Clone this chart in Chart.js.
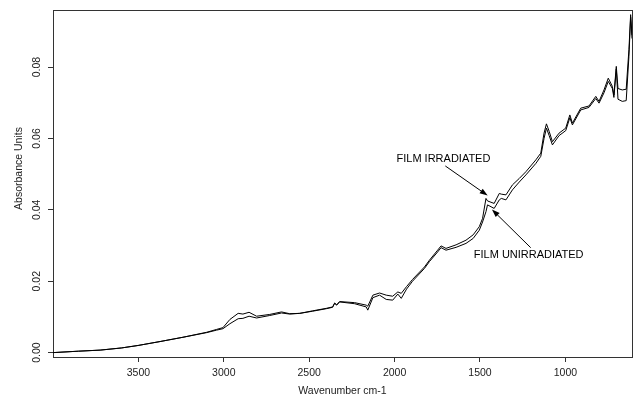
<!DOCTYPE html>
<html>
<head>
<meta charset="utf-8">
<script src="https://cdn.jsdelivr.net/npm/chart.js@4/dist/chart.umd.min.js"></script>
<style>
  body { margin: 0; background: #fff; }
  #wrap { width: 637px; height: 399px; }
</style>
</head>
<body>
<div id="wrap"><canvas id="spec" width="637" height="399"></canvas></div>
<script>
// -----------------------------
// Data
// -----------------------------
const wavenumbers = [
  4000, 3850, 3724, 3600, 3502, 3373, 3239, 3100, 3042, 3005,
  2964, 2916, 2888, 2852, 2808, 2731, 2662, 2614, 2555, 2480,
  2400, 2363, 2351, 2339, 2322, 2234, 2166, 2157, 2127, 2088,
  2049, 2011, 1981, 1961, 1930, 1895, 1825, 1796, 1748, 1728,
  1699, 1640, 1582, 1540, 1504, 1485, 1465, 1456, 1417, 1387,
  1375, 1348, 1310, 1270, 1231, 1173, 1144, 1125, 1111, 1095,
  1076, 1037, 998, 974, 959, 910, 862, 822, 803, 774,
  749, 725, 716, 702, 692, 667, 644, 628, 618, 610
];
const irradiated = [
  0.0000, 0.0004, 0.0007, 0.0013, 0.0020, 0.0031, 0.0043, 0.0057, 0.0065, 0.0070,
  0.0093, 0.0110, 0.0108, 0.0113, 0.0102, 0.0107, 0.0114, 0.0109, 0.0110, 0.0117,
  0.0124, 0.0128, 0.0139, 0.0134, 0.0143, 0.0140, 0.0133, 0.0130, 0.0161, 0.0167,
  0.0161, 0.0158, 0.0170, 0.0166, 0.0185, 0.0205, 0.0240, 0.0259, 0.0287, 0.0299,
  0.0292, 0.0302, 0.0315, 0.0330, 0.0353, 0.0376, 0.0432, 0.0425, 0.0418, 0.0446,
  0.0444, 0.0442, 0.0470, 0.0488, 0.0507, 0.0540, 0.0559, 0.0615, 0.0641, 0.0620,
  0.0591, 0.0615, 0.0629, 0.0666, 0.0643, 0.0685, 0.0691, 0.0718, 0.0704, 0.0736,
  0.0769, 0.0746, 0.0722, 0.0802, 0.0740, 0.0736, 0.0738, 0.0849, 0.0947, 0.0890
];
const unirradiated = [
  0.0000, 0.0004, 0.0007, 0.0013, 0.0020, 0.0031, 0.0043, 0.0056, 0.0063, 0.0067,
  0.0081, 0.0095, 0.0096, 0.0102, 0.0097, 0.0104, 0.0111, 0.0108, 0.0110, 0.0116,
  0.0123, 0.0127, 0.0138, 0.0133, 0.0142, 0.0137, 0.0128, 0.0119, 0.0154, 0.0161,
  0.0149, 0.0147, 0.0164, 0.0152, 0.0178, 0.0200, 0.0236, 0.0255, 0.0282, 0.0294,
  0.0287, 0.0295, 0.0306, 0.0320, 0.0343, 0.0366, 0.0395, 0.0414, 0.0404, 0.0428,
  0.0432, 0.0428, 0.0456, 0.0478, 0.0498, 0.0530, 0.0550, 0.0600, 0.0629, 0.0608,
  0.0582, 0.0608, 0.0622, 0.0658, 0.0638, 0.0680, 0.0687, 0.0712, 0.0699, 0.0728,
  0.0760, 0.0740, 0.0715, 0.0795, 0.0710, 0.0704, 0.0706, 0.0830, 0.0940, 0.0880
];
const xTicks = [3500, 3000, 2500, 2000, 1500, 1000];
const yTicks = [0.00, 0.02, 0.04, 0.06, 0.08];

// labels with arrows, in data units (text centre, arrow tail, arrow tip)
const notes = [
  { text: "FILM IRRADIATED",   at: [1714, 0.0543], from: [1703, 0.0523], to: [1455, 0.0440] },
  { text: "FILM UNIRRADIATED", at: [1215, 0.0273], from: [1203, 0.0294], to: [1430, 0.0401] }
];

// -----------------------------
// Styling helpers
// -----------------------------
const FONT = '"Liberation Sans", Arial, sans-serif';
const axisFont = { family: FONT, size: 10.5 };
const ink = '#222';
const frame = '#333';

const toPoints = vals => wavenumbers.map((w, i) => ({ x: w, y: vals[i] }));

// draws the arrow labels and the y title (placed a little above centre, as in the original)
const notesPlugin = {
  id: 'notes',
  afterDatasetsDraw(chart) {
    const { ctx, chartArea, scales: { x, y } } = chart;
    ctx.save();
    ctx.fillStyle = '#000';
    ctx.strokeStyle = '#000';
    ctx.lineWidth = 1;
    ctx.font = '11px ' + FONT;
    ctx.textAlign = 'center';
    ctx.textBaseline = 'middle';
    notes.forEach(n => {
      ctx.fillText(n.text, x.getPixelForValue(n.at[0]), y.getPixelForValue(n.at[1]));
      const x0 = x.getPixelForValue(n.from[0]), y0 = y.getPixelForValue(n.from[1]);
      const x1 = x.getPixelForValue(n.to[0]), y1 = y.getPixelForValue(n.to[1]);
      const a = Math.atan2(y1 - y0, x1 - x0);
      ctx.beginPath();
      ctx.moveTo(x0, y0);
      ctx.lineTo(x1 - 6 * Math.cos(a), y1 - 6 * Math.sin(a));
      ctx.stroke();
      ctx.beginPath();
      ctx.moveTo(x1, y1);
      ctx.lineTo(x1 - 8 * Math.cos(a) + 2.8 * Math.sin(a), y1 - 8 * Math.sin(a) - 2.8 * Math.cos(a));
      ctx.lineTo(x1 - 8 * Math.cos(a) - 2.8 * Math.sin(a), y1 - 8 * Math.sin(a) + 2.8 * Math.cos(a));
      ctx.closePath();
      ctx.fill();
    });
    // y axis title
    ctx.fillStyle = ink;
    ctx.font = '10.5px ' + FONT;
    ctx.translate(19, (chartArea.top + chartArea.bottom) / 2 - 15);
    ctx.rotate(-Math.PI / 2);
    ctx.fillText('Absorbance Units', 0, 0);
    ctx.restore();
  }
};

// -----------------------------
// Chart
// -----------------------------
new Chart(document.getElementById('spec'), {
  type: 'line',
  data: {
    datasets: [
      { label: 'Film irradiated', data: toPoints(irradiated), borderColor: '#000', borderWidth: 1, pointRadius: 0, tension: 0, fill: false },
      { label: 'Film unirradiated', data: toPoints(unirradiated), borderColor: '#000', borderWidth: 1, pointRadius: 0, tension: 0, fill: false }
    ]
  },
  options: {
    responsive: false,
    animation: false,
    devicePixelRatio: 1,
    layout: { padding: { left: 0, right: 5, top: 10, bottom: 0 } },
    plugins: { legend: { display: false }, tooltip: { enabled: false } },
    scales: {
      x: {
        type: 'linear', position: 'bottom', reverse: true, min: 610, max: 4000,
        afterBuildTicks: s => { s.ticks = xTicks.map(v => ({ value: v })); },
        afterFit: s => { s.height = 42; },
        grid: { display: true, drawOnChartArea: false, drawTicks: true, tickLength: 5, color: frame },
        border: { display: true, color: frame, width: 1 },
        ticks: { font: axisFont, color: ink, padding: 5, maxRotation: 0, callback: v => String(v) },
        title: { display: true, text: 'Wavenumber cm-1', font: axisFont, color: ink, padding: { top: 0, bottom: 2 } }
      },
      y: {
        type: 'linear', position: 'left', min: -0.00123, max: 0.096,
        afterBuildTicks: s => { s.ticks = yTicks.map(v => ({ value: v })); },
        afterFit: s => { s.width = 53; },
        grid: { display: true, drawOnChartArea: false, drawTicks: true, tickLength: 5, color: frame },
        border: { display: true, color: frame, width: 1 },
        ticks: { font: axisFont, color: ink, padding: 1, minRotation: 90, maxRotation: 90, crossAlign: 'center', callback: v => v.toFixed(2) }
      },
      xTop: {
        type: 'linear', position: 'top', display: true,
        afterFit: s => { s.height = 0; },
        grid: { display: false }, ticks: { display: false },
        border: { display: true, color: frame, width: 1 }
      },
      yRight: {
        type: 'linear', position: 'right', display: true,
        afterFit: s => { s.width = 0; },
        grid: { display: false }, ticks: { display: false },
        border: { display: true, color: frame, width: 1 }
      }
    }
  },
  plugins: [notesPlugin]
});
</script>
</body>
</html>
